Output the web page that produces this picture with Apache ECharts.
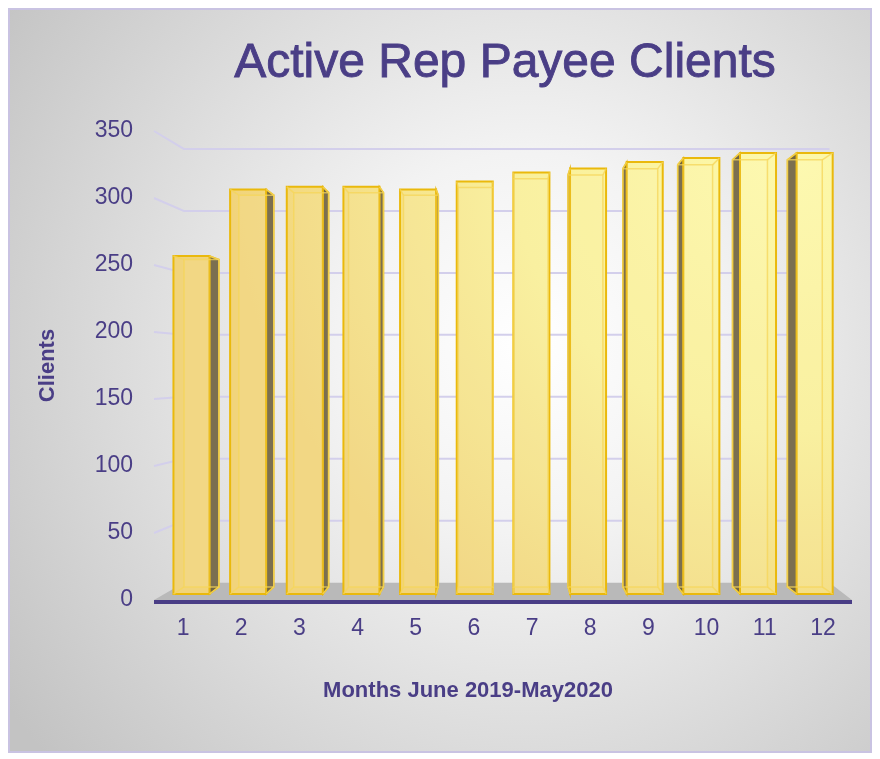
<!DOCTYPE html>
<html>
<head>
    <meta charset="utf-8">
    <title>Active Rep Payee Clients</title>
    <script src="https://cdn.jsdelivr.net/npm/echarts@6/dist/echarts.min.js"></script>
    <style>html, body { margin: 0; background: #fff; }</style>
</head>
<body>
<div id="main" style="width: 880px;height:759px;"></div>
<script type="text/javascript">
    // data
    var months = ['1', '2', '3', '4', '5', '6', '7', '8', '9', '10', '11', '12'];
    var clients = [259, 310, 312, 312, 310, 316, 323, 326, 331, 334, 338, 338];
    var yTicks = [0, 50, 100, 150, 200, 250, 300, 350];

    var purple = '#4a3e86';
    // depth factors of the fake 3d (1 = front plane)
    var WALL = 0.925, BAR_FRONT = 0.974, BAR_BACK = 0.943;

    // vanishing points, relative to the grid
    function vanish(cs) {
        return [cs.x + cs.width * 0.57, cs.y + cs.height * 0.51];
    }
    function vanishBar(cs) {
        return [cs.x + cs.width * 0.504, cs.y + cs.height * 0.51];
    }
    function proj(p, s, v) {
        return [v[0] + (p[0] - v[0]) * s, v[1] + (p[1] - v[1]) * s];
    }

    var barFill = {
        type: 'radial', x: 790, y: 150, r: 560, global: true,
        colorStops: [
            {offset: 0, color: '#fdf9ab'},
            {offset: 0.5, color: '#f9ef99'},
            {offset: 1, color: '#f1d47b'}
        ]
    };

    var myChart = echarts.init(document.getElementById('main'));

    var option = {
        animation: false,
        graphic: [{
            type: 'rect', z: -10, silent: true,
            shape: {x: 9, y: 9, width: 862, height: 743},
            style: {
                fill: {
                    type: 'radial', x: 0.6, y: 0.45, r: 0.85,
                    colorStops: [
                        {offset: 0, color: '#ffffff'},
                        {offset: 0.3, color: '#f3f3f3'},
                        {offset: 1, color: '#c3c3c3'}
                    ]
                },
                stroke: '#c9c3e2', lineWidth: 2
            }
        }],
        title: {
            text: 'Active Rep Payee Clients',
            left: 500, top: 35, textAlign: 'center',
            textStyle: {
                color: purple, fontSize: 48, fontWeight: 'normal', fontFamily: 'Liberation Sans',
                textBorderColor: purple, textBorderWidth: 0.9
            }
        },
        grid: {left: 154, right: 28, top: 131, bottom: 159},
        xAxis: {
            type: 'category',
            data: months,
            name: 'Months June 2019-May2020',
            nameLocation: 'middle',
            nameGap: 80,
            nameTextStyle: {color: purple, fontSize: 22, fontWeight: 'bold', fontFamily: 'Liberation Sans', padding: [0, 70, 0, 0]},
            axisLine: {show: false},
            axisTick: {show: false},
            axisLabel: {color: purple, fontSize: 23, margin: 17, fontFamily: 'Liberation Sans'}
        },
        yAxis: {
            type: 'value',
            min: 0, max: 350, interval: 50,
            name: 'Clients',
            nameLocation: 'middle',
            nameGap: 95,
            nameTextStyle: {color: purple, fontSize: 22, fontWeight: 'bold', fontFamily: 'Liberation Sans'},
            axisLine: {show: false},
            axisTick: {show: false},
            splitLine: {show: false},
            axisLabel: {color: purple, fontSize: 23, margin: 21, fontFamily: 'Liberation Sans'}
        },
        series: [{
            // walls, gridlines and floor
            type: 'custom',
            silent: true,
            z: 1,
            data: yTicks.map(function (t) { return [0, t]; }),
            renderItem: function (params, api) {
                var cs = params.coordSys;
                var v = vanish(cs);
                var val = api.value(1);
                var y = api.coord([0, val])[1];
                var fl = [cs.x, y], fr = [cs.x + cs.width, y];
                var bl = proj(fl, WALL, v), br = proj(fr, WALL, v);
                if (val === 0) {
                    return {
                        type: 'group',
                        children: [{
                            type: 'polygon',
                            shape: {points: [fl, fr, br, bl]},
                            style: {fill: '#b9b9b9'}
                        }, {
                            type: 'line',
                            shape: {x1: fl[0], y1: y + 2, x2: fr[0], y2: y + 2},
                            style: {stroke: purple, lineWidth: 4}
                        }]
                    };
                }
                return {
                    type: 'polyline',
                    shape: {points: [fl, bl, br]},
                    style: {stroke: '#d3cfeb', lineWidth: 2, fill: null}
                };
            }
        }, {
            type: 'custom',
            z: 2,
            data: clients.map(function (c, i) { return [i, c]; }),
            renderItem: function (params, api) {
                var cs = params.coordSys;
                var v = vanishBar(cs);
                var i = api.value(0), val = api.value(1);
                var base = api.coord([i, 0]), top = api.coord([i, val]);
                var hw = api.size([1, 0])[0] * 0.318;
                var xl = base[0] - hw, xr = base[0] + hw, yt = top[1], yb = base[1];
                var f = function (x, y) { return proj([x, y], BAR_FRONT, v); };
                var b = function (x, y) { return proj([x, y], BAR_BACK, v); };
                var kids = [];
                var ftl = f(xl, yt), fbr = f(xr, yb);
                var btl = b(xl, yt), bbr = b(xr, yb);

                var side = null;
                if (fbr[0] - bbr[0] < -1) side = [f(xr, yt), b(xr, yt), b(xr, yb), f(xr, yb)];
                else if (btl[0] - ftl[0] < -1) side = [f(xl, yt), b(xl, yt), b(xl, yb), f(xl, yb)];
                if (side) {
                    kids.push({
                        type: 'polygon', shape: {points: side},
                        style: {fill: '#716543', stroke: '#e3b50f', lineWidth: 1.5}
                    });
                }
                kids.push({
                    type: 'rect',
                    shape: {x: ftl[0], y: ftl[1], width: fbr[0] - ftl[0], height: fbr[1] - ftl[1]},
                    style: {fill: barFill, stroke: '#eab90c', lineWidth: 2}
                });
                // back edges seen through the face
                var edge = 'rgba(246,214,90,0.75)';
                kids.push({
                    type: 'rect',
                    shape: {x: btl[0], y: btl[1], width: bbr[0] - btl[0], height: bbr[1] - btl[1]},
                    style: {fill: 'rgba(255,255,255,0.07)', stroke: edge, lineWidth: 1.5}
                });
                [[xl, yt], [xr, yt], [xl, yb], [xr, yb]].forEach(function (p) {
                    var a = f(p[0], p[1]), c = b(p[0], p[1]);
                    kids.push({
                        type: 'line',
                        shape: {x1: a[0], y1: a[1], x2: c[0], y2: c[1]},
                        style: {stroke: edge, lineWidth: 1.5}
                    });
                });
                return {type: 'group', children: kids};
            }
        }]
    };

    myChart.setOption(option);
</script>
</body>
</html>
